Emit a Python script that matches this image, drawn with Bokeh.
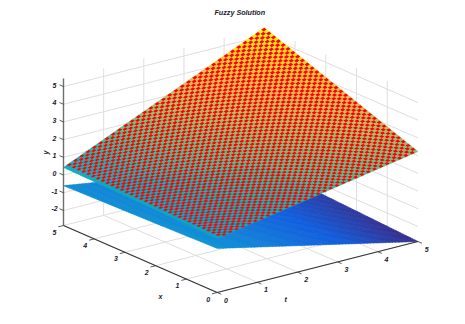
from bokeh.embed import file_html
from bokeh.resources import INLINE
from bokeh.plotting import figure
from bokeh.models import Range1d
from bokeh.core.properties import value
import numpy as np

# --- data ---
title = "Fuzzy Solution"
x_ticks = [0, 1, 2, 3, 4, 5]
t_ticks = [0, 1, 2, 3, 4, 5]
y_ticks = [-2, -1, 0, 1, 2, 3, 4, 5]
y_limits = [-2.85, 5.45]
# surface heights at corners, order (x, t): (0,0), (5,0), (0,5), (5,5)
upper_y = [0.20, 0.43, 2.23, 5.45]
lower_y = [-0.36, -0.60, -2.85, -2.35]
mesh_cells = 64

# --- projection of the 3-D box to the page ---
ORIGIN = np.array([216.7, 292.0])
EX = np.array([-30.74, -13.4])
ET = np.array([40.16, -10.2])
EY = np.array([0.0, -17.7])
def proj(x, t, y):
    return (ORIGIN[0] + x*EX[0] + t*ET[0], ORIGIN[1] + x*EX[1] + t*ET[1] + (y - y_limits[0])*EY[1])

PARULA = np.array([[53,42,135],[15,92,221],[18,125,216],[7,156,207],[21,177,180],
                   [89,189,140],[165,190,107],[225,185,82],[252,206,46],[249,251,14]], float)
def parula(v):
    f = np.clip((v - y_limits[0])/(y_limits[1]-y_limits[0]), 0, 1)*(len(PARULA)-1)
    i = min(int(f), len(PARULA)-2)
    c = PARULA[i] + (PARULA[i+1]-PARULA[i])*(f-i)
    return "#%02x%02x%02x" % tuple(int(round(a)) for a in c)

def height(c, x, t):
    u, v = x/5, t/5
    return c[0]*(1-u)*(1-v) + c[1]*u*(1-v) + c[2]*(1-u)*v + c[3]*u*v

def mesh(c):
    xs, ys, cols = [], [], []
    g = np.linspace(0, 5, mesh_cells+1)
    for i in range(mesh_cells):
        for j in range(mesh_cells):
            qx, qy = [], []
            for a, b in ((g[i], g[j]), (g[i+1], g[j]), (g[i+1], g[j+1]), (g[i], g[j+1])):
                px, py = proj(a, b, height(c, a, b))
                qx.append(px); qy.append(py)
            xs.append(qx); ys.append(qy)
            cols.append(parula(height(c, (g[i]+g[i+1])/2, (g[j]+g[j+1])/2)))
    return xs, ys, cols

def checks(c, grow=-0.03):
    xs, ys = [], []
    h = 5/mesh_cells
    for i in range(0, mesh_cells):
        for j in range(1, mesh_cells):
            if (i+j) % 2:
                continue
            qx, qy = [], []
            a0, b0 = i*h, j*h
            lo_a, hi_a = max(a0-grow*h, 0), min(a0+h+grow*h, 5)
            lo_b, hi_b = b0-grow*h, min(b0+h+grow*h, 5)
            for a, b in ((lo_a, lo_b), (hi_a, lo_b), (hi_a, hi_b), (lo_a, hi_b)):
                px, py = proj(a, b, height(c, a, b))
                qx.append(px); qy.append(py)
            xs.append(qx); ys.append(qy)
    return xs, ys

p = figure(width=449, height=308, output_backend="svg", toolbar_location=None,
           x_range=Range1d(0, 449), y_range=Range1d(308, 0),
           x_axis_type=None, y_axis_type=None, min_border=0)
p.grid.visible = False
p.outline_line_color = None

GRID = "#dedede"
def seg(a, b, color=GRID, width=1.0):
    p.line([proj(*a)[0], proj(*b)[0]], [proj(*a)[1], proj(*b)[1]], line_color=color, line_width=width)

y0, y1 = y_limits
for v in x_ticks:
    seg((v, 0, y0), (v, 5, y0))
    if 0 < v:
        seg((v, 5, y0), (v, 5, y1))
for v in t_ticks:
    seg((0, v, y0), (5, v, y0))
    if 0 < v:
        seg((5, v, y0), (5, v, y1))
for v in y_ticks:
    seg((5, 0, v), (5, 5, v))
    seg((5, 5, v), (0, 5, v))

xs, ys, cols = mesh(lower_y)
p.patches(xs, ys, fill_color=cols, line_color=cols, line_width=0.5)
xs, ys, cols = mesh(upper_y)
p.patches(xs, ys, fill_color=cols, line_color=cols, line_width=0.5)
xs, ys = checks(upper_y)
p.patches(xs, ys, fill_color="#ff0000", line_color=None)

AX = "#333333"
seg((5, 0, y0), (5, 0, y1), "#6e6e6e", 1.4)
seg((5, 0, y0), (0, 0, y0), AX, 1.1)
seg((0, 0, y0), (0, 5, y0), AX, 1.1)
for v in x_ticks:
    seg((v, 0, y0), (v, -0.13, y0), AX, 0.8)
for v in t_ticks:
    seg((0, v, y0), (-0.13, v, y0), AX, 0.8)
for v in y_ticks:
    seg((5, 0, v), (5.13, 0, v), AX, 0.8)

FONT = value("Liberation Sans")
def labels(px, py, txt, dx, dy, size="7px", style="bold italic", angle=0.0):
    p.text(px, py, text=txt, x_offset=dx, y_offset=dy, text_font=FONT, text_font_size=size,
           text_font_style=style, text_color="#1a1a2e", text_align="center",
           text_baseline="middle", angle=angle)

P = [proj(v, 0, y0) for v in x_ticks]
labels([a for a, _ in P], [b for _, b in P], [str(v) for v in x_ticks], -9, 6.5)
P = [proj(0, v, y0) for v in t_ticks]
labels([a for a, _ in P], [b for _, b in P], [str(v) for v in t_ticks], 8.7, 7.5)
P = [proj(5, 0, v) for v in y_ticks]
labels([a for a, _ in P], [b for _, b in P], [str(v) for v in y_ticks], -9, -1.5)
a, b = proj(2.5, 0, y0); labels([a], [b], ["x"], 20, 37)
a, b = proj(0, 2.5, y0); labels([a], [b], ["t"], -32, 32)
a, b = proj(5, 0, 1.27); labels([a], [b], ["y"], -18, 0, angle=np.pi/2)
a, b = proj(5, 5, y1); labels([a], [b], [title], -24.5, -15.5, size="7.2px")

open("out.html", "w").write(file_html(p, INLINE))
